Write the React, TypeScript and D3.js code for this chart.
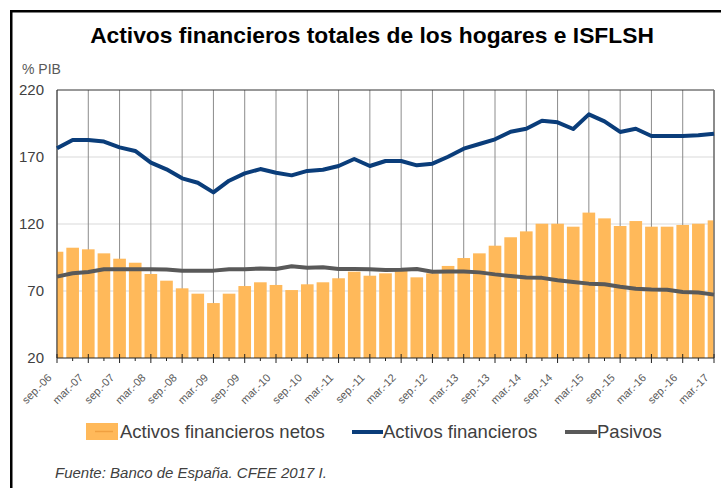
import React from "react";
import * as d3 from "d3";

const categories = [
  "sep.-06", "dic.-06", "mar.-07", "jun.-07", "sep.-07", "dic.-07", "mar.-08", "jun.-08",
  "sep.-08", "dic.-08", "mar.-09", "jun.-09", "sep.-09", "dic.-09", "mar.-10", "jun.-10",
  "sep.-10", "dic.-10", "mar.-11", "jun.-11", "sep.-11", "dic.-11", "mar.-12", "jun.-12",
  "sep.-12", "dic.-12", "mar.-13", "jun.-13", "sep.-13", "dic.-13", "mar.-14", "jun.-14",
  "sep.-14", "dic.-14", "mar.-15", "jun.-15", "sep.-15", "dic.-15", "mar.-16", "jun.-16",
  "sep.-16", "dic.-16", "mar.-17",
];

const netos = [
  99.3, 102.3, 101.1, 98.1, 94.1, 91.1, 82.7, 77.7, 72.0, 68.0, 61.0, 68.0, 73.7, 76.5,
  74.5, 70.7, 75.0, 76.5, 79.5, 84.4, 81.4, 83.2, 85.2, 80.2, 83.2, 88.7, 94.6, 98.1,
  103.8, 110.1, 114.5, 120.2, 120.2, 118.0, 128.5, 124.2, 118.5, 122.2, 118.0, 118.0,
  119.3, 120.2, 122.7,
];

const activos = [
  176.5, 182.7, 182.7, 181.5, 177.2, 174.5, 165.8, 160.8, 154.1, 150.8, 143.6, 152.3,
  157.8, 161.0, 158.3, 156.3, 159.6, 160.5, 163.3, 168.5, 163.3, 167.0, 167.0, 163.8,
  165.0, 170.2, 176.2, 179.7, 183.2, 188.9, 191.1, 197.1, 195.9, 190.9, 201.8, 196.6,
  188.7, 191.1, 185.7, 185.7, 185.7, 186.2, 187.4,
];

const pasivos = [
  80.7, 83.2, 84.2, 86.2, 86.2, 86.2, 86.2, 86.0, 85.2, 85.2, 85.2, 86.2, 86.3, 86.7,
  86.4, 88.4, 87.4, 87.7, 86.4, 86.4, 86.2, 85.7, 85.8, 86.4, 84.4, 84.6, 84.6, 83.9,
  82.4, 81.2, 80.0, 79.8, 78.0, 76.7, 75.5, 75.0, 73.2, 71.7, 71.2, 71.0, 69.3, 68.8,
  67.3,
];

const yTicks = [20, 70, 120, 170, 220];

const W = 721;
const H = 488;
const L = 57;
const R = 714;
const T = 90;
const B = 358;

export default function App() {
  const x = d3.scalePoint<string>().domain(categories).range([L, R]);
  const y = d3.scaleLinear().domain([20, 220]).range([B, T]);
  const step = x.step();
  const barW = step - 3;

  const line = d3
    .line<number>()
    .x((_, i) => x(categories[i]) as number)
    .y((d) => y(d));

  const majors = categories.filter((_, i) => i % 2 === 0);
  const minors = categories.filter((_, i) => i % 2 === 1);

  const font = "Liberation Sans, Arial, sans-serif";

  return (
    <svg
      width={W}
      height={H}
      style={{ position: "absolute", left: 0, top: 0, background: "#fff" }}
      fontFamily={font}
    >
      <defs>
        <clipPath id="plotclip">
          <rect x={L} y={T - 5} width={R - L} height={B - T + 5} />
        </clipPath>
      </defs>
      <rect x={0} y={0} width={W} height={H} fill="#fff" />
      <rect x={11.25} y={11.25} width={W + 20} height={H + 20} fill="none" stroke="#000" strokeWidth={2.5} />

      <text x={372} y={42.5} textAnchor="middle" fontSize={22.8} fontWeight="bold" fill="#000">
        Activos financieros totales de los hogares e ISFLSH
      </text>
      <text x={22} y={74} fontSize={14} fill="#595959">% PIB</text>

      {/* horizontal gridlines */}
      {yTicks.slice(1, -1).map((t) => (
        <line key={t} x1={L} x2={R} y1={y(t)} y2={y(t)} stroke="#d9d9d9" strokeWidth={1} />
      ))}
      {/* vertical gridlines */}
      {majors.map((c) => (
        <line key={c} x1={x(c)} x2={x(c)} y1={T} y2={B} stroke="#8c8c8c" strokeWidth={1} />
      ))}

      {/* bars */}
      <g clipPath="url(#plotclip)">
        {netos.map((v, i) => (
          <rect
            key={i}
            x={(x(categories[i]) as number) - barW / 2}
            y={y(v)}
            width={barW}
            height={B - y(v)}
            fill="#FFB95A"
          />
        ))}
      </g>

      {/* plot frame */}
      <line x1={L} x2={R} y1={T} y2={T} stroke="#333" strokeWidth={1} />
      <line x1={L} x2={L} y1={T} y2={B} stroke="#333" strokeWidth={1} />
      <line x1={R} x2={R} y1={T} y2={B} stroke="#777" strokeWidth={1.5} />

      {/* lines */}
      <path d={line(pasivos) || ""} fill="none" stroke="#595959" strokeWidth={4} strokeLinejoin="round" />
      <path d={line(activos) || ""} fill="none" stroke="#0A3D7A" strokeWidth={4} strokeLinejoin="round" />

      {/* x axis */}
      <line x1={L} x2={R} y1={B} y2={B} stroke="#222" strokeWidth={1} />
      {majors.map((c) => (
        <line key={c} x1={x(c)} x2={x(c)} y1={B - 4} y2={B + 5} stroke="#222" strokeWidth={1} />
      ))}
      {minors.map((c) => (
        <line key={c} x1={x(c)} x2={x(c)} y1={B} y2={B + 3} stroke="#222" strokeWidth={1} />
      ))}
      {majors.map((c) => {
        const px = (x(c) as number) - 10;
        const py = B + 15;
        return (
          <text
            key={c}
            x={px}
            y={py}
            textAnchor="end"
            fontSize={11}
            fill="#595959"
            dy="0.7em"
            transform={`rotate(-45 ${px} ${py})`}
          >
            {c}
          </text>
        );
      })}

      {/* y axis labels */}
      {yTicks.map((t) => (
        <text key={t} x={44} y={y(t)} dy="0.36em" textAnchor="end" fontSize={15} fill="#404040">
          {t}
        </text>
      ))}

      {/* legend */}
      <rect x={86} y={423} width={32} height={17} fill="#FFB95A" />
      <line x1={95} x2={113} y1={431.5} y2={431.5} stroke="#F0A040" strokeWidth={1.5} />
      <text x={120} y={438} fontSize={18.5} fill="#404040">Activos financieros netos</text>
      <line x1={352} x2={383} y1={432} y2={432} stroke="#0A3D7A" strokeWidth={4} />
      <text x={383} y={438} fontSize={18.5} fill="#404040">Activos financieros</text>
      <line x1={565} x2={597} y1={432} y2={432} stroke="#595959" strokeWidth={4} />
      <text x={597} y={438} fontSize={18.5} fill="#404040">Pasivos</text>

      <text x={55} y={478} fontSize={15} fontStyle="italic" fill="#404040">
        Fuente: Banco de España. CFEE 2017 I.
      </text>
    </svg>
  );
}
